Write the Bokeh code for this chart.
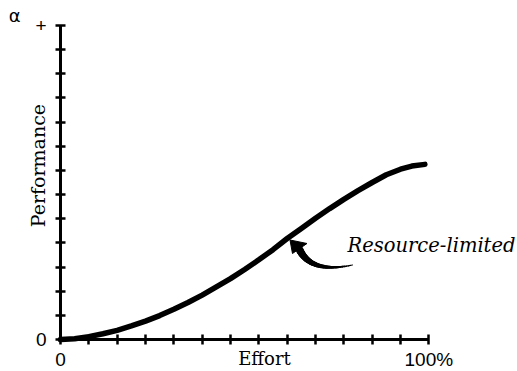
import numpy as np
from bokeh.plotting import figure
from bokeh.models import FixedTicker, Label, Range1d
from bokeh.embed import file_html
from bokeh.resources import INLINE

# Data (in tick units: 13 ticks on each axis)
effort = [0, 0.5, 1, 1.5, 2, 2.5, 3, 3.5, 4, 4.5, 5, 5.5, 6, 6.5, 7, 7.5, 8,
          8.5, 9, 9.5, 10, 10.5, 11, 11.5, 12, 12.4, 12.86]
performance = [0, 0.03, 0.12, 0.24, 0.38, 0.56, 0.76, 0.99, 1.25, 1.53, 1.84, 2.18, 2.52,
               2.9, 3.3, 3.72, 4.18, 4.6, 5.02, 5.42, 5.8, 6.16, 6.5, 6.82, 7.05, 7.18, 7.25]

x_ticks = list(range(14))
y_ticks = list(range(14))
x_tick_labels = {0: "0", 13: "100%"}
y_tick_labels = {0: "0", 13: "+"}

# Arrow annotation (data units): head tip, head base corners, body bezier
arrow_tip = (8.10, 4.12)
arrow_base_a = (8.188, 3.56)
arrow_base_b = (8.70, 3.975)
arrow_body_start = (8.435, 3.726)
arrow_body_ctrl = (8.841, 2.722)
arrow_body_end = (10.306, 3.084)

W, H = 517, 371
# frame covers the whole canvas; axes sit at data 0 via fixed_location
x_range = Range1d(-60 / 28.333, (W - 60) / 28.333)
y_range = Range1d((339 - H) / 24.154, 339 / 24.154)

p = figure(width=W, height=H, output_backend="svg", toolbar_location=None,
           x_range=x_range, y_range=y_range,
           min_border_left=0, min_border_right=0,
           min_border_top=0, min_border_bottom=0)
p.outline_line_color = None
p.xgrid.grid_line_color = None
p.ygrid.grid_line_color = None
p.background_fill_color = "white"
p.border_fill_color = "white"

for ax, ticks, labels in ((p.xaxis[0], x_ticks, x_tick_labels), (p.yaxis[0], y_ticks, y_tick_labels)):
    ax.fixed_location = 0
    ax.bounds = (0, 13)
    ax.ticker = FixedTicker(ticks=ticks)
    ax.major_label_overrides = {t: labels.get(t, "") for t in ticks}
    ax.axis_line_width = 3
    ax.axis_line_color = "black"
    ax.major_tick_line_width = 2.5
    ax.major_tick_line_color = "black"
    ax.major_tick_in = 5
    ax.major_tick_out = 5
    ax.minor_tick_line_color = None
    ax.major_label_text_font = "Liberation Sans"
    ax.major_label_text_font_size = "19px"
    ax.major_label_text_color = "black"

p.yaxis[0].major_label_standoff = 9
p.xaxis[0].major_label_standoff = 4

p.line(effort, performance, line_width=5.5, line_color="black", line_join="round", line_cap="round")

# Arrow head
p.patch([arrow_tip[0], arrow_base_a[0], arrow_base_b[0]],
        [arrow_tip[1], arrow_base_a[1], arrow_base_b[1]], color="black")

# Tapered arrow body along a quadratic bezier
t = np.linspace(0, 1, 40)
bx = (1 - t) ** 2 * arrow_body_start[0] + 2 * (1 - t) * t * arrow_body_ctrl[0] + t ** 2 * arrow_body_end[0]
by = (1 - t) ** 2 * arrow_body_start[1] + 2 * (1 - t) * t * arrow_body_ctrl[1] + t ** 2 * arrow_body_end[1]
widths = np.linspace(7.5, 1.0, len(t) - 1)
p.segment(x0=bx[:-1], y0=by[:-1], x1=bx[1:], y1=by[1:], line_width=widths,
          line_color="black", line_cap="round")

serif = "DejaVu Serif"
p.add_layout(Label(x=10.13, y=3.9, text="Resource-limited", text_font=serif,
                   text_font_style="italic", text_font_size="19.5px",
                   text_align="left", text_baseline="middle", text_color="black"))
p.add_layout(Label(x=7.2, y=-0.78, text="Effort", text_font=serif,
                   text_font_size="18px", text_align="center", text_baseline="middle",
                   text_color="black"))
p.add_layout(Label(x=-0.78, y=7.2, text="Performance", text_font=serif,
                   text_font_size="19px", text_align="center", text_baseline="middle",
                   angle=np.pi / 2, text_color="black"))
p.add_layout(Label(x=-1.62, y=13.4, text="α", text_font="DejaVu Sans",
                   text_font_size="18px", text_align="center", text_baseline="middle",
                   text_color="black"))

open("out.html", "w").write(file_html(p, INLINE))
